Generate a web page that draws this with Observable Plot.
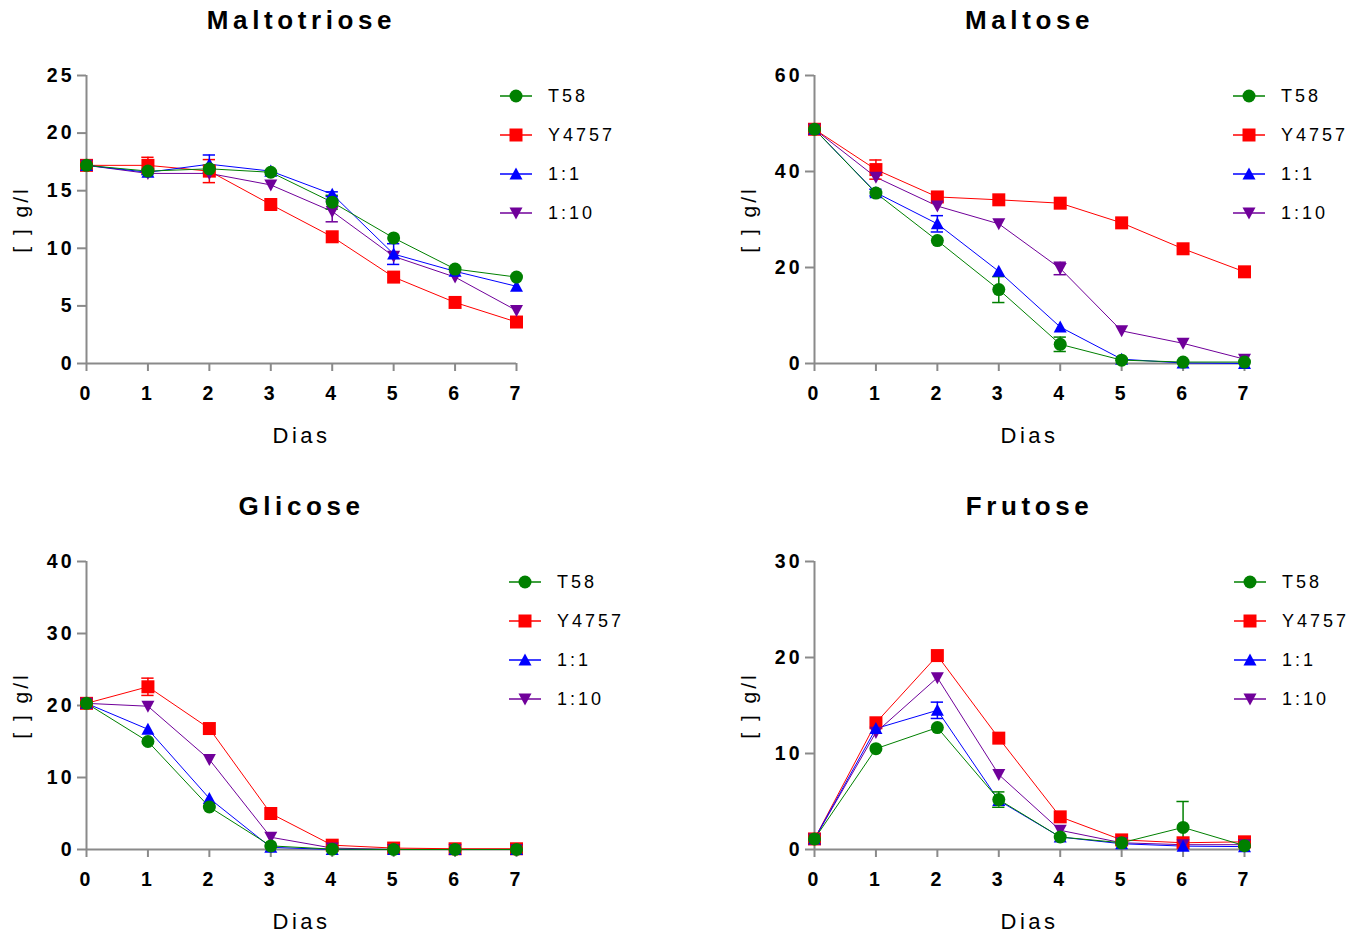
<!DOCTYPE html>
<html><head><meta charset="utf-8">
<script src="https://cdn.jsdelivr.net/npm/d3@7"></script>
<script src="https://cdn.jsdelivr.net/npm/@observablehq/plot@0.6"></script>
<style>
html,body{margin:0;padding:0;background:#fff;overflow:hidden;width:1365px;height:938px;}
.panel{position:absolute;}
</style></head><body>
<div id="root"></div>
<script>
// ---- data ----
const days = [0,1,2,3,4,5,6,7];
const seriesNames = ["T58","Y4757","1:1","1:10"];
const seriesColors = ["#008000","#ff0000","#0000ff","#70009a"];
const panelTitles = ["Maltotriose","Maltose","Glicose","Frutose"];
const yLabel = "[ ] g/l";
const xLabel = "Dias";

const maltotrioseTicks = [0,5,10,15,20,25];
const maltoseTicks = [0,20,40,60];
const glicoseTicks = [0,10,20,30,40];
const frutoseTicks = [0,10,20,30];

// rows: T58, Y4757, 1:1, 1:10
const maltotrioseValues = [
  [17.2,16.7,16.9,16.6,14.0,10.9,8.2,7.5],
  [17.2,17.2,16.7,13.8,11.0,7.5,5.3,3.6],
  [17.2,16.6,17.3,16.7,14.7,9.5,8.0,6.7],
  [17.2,16.5,16.5,15.5,13.2,9.3,7.5,4.6]
];
const maltotrioseErrors = [
  [0,0,0.3,0,0.6,0,0,0],
  [0,0.7,1.0,0,0,0,0,0],
  [0,0.2,0.8,0,0.2,0.9,0,0],
  [0,0,0,0,0.9,0,0,0]
];
const maltoseValues = [
  [48.8,35.5,25.6,15.4,4.0,0.7,0.3,0.3],
  [48.8,40.4,34.7,34.1,33.4,29.3,23.9,19.1],
  [48.8,35.6,29.1,19.2,7.6,0.9,0.1,0.0],
  [48.8,38.8,32.8,29.1,19.8,6.8,4.2,0.9]
];
const maltoseErrors = [
  [0,0,0,2.7,1.5,0,0,0],
  [0,2.0,0,0,0,0,0,0],
  [0,0.7,1.7,0,0,0,0,0],
  [0,0,0,0,1.3,0,0,0]
];
const glicoseValues = [
  [20.3,15.0,5.9,0.5,0.05,0,0,0],
  [20.3,22.6,16.8,5.0,0.6,0.2,0.1,0.1],
  [20.3,16.7,7.1,0.3,0,0,0,0],
  [20.3,19.9,12.5,1.7,0.2,0,0,0]
];
const glicoseErrors = [
  [0,0,0,0,0,0,0,0],
  [0,1.2,0,0,0,0,0,0],
  [0,0,0,0,0,0,0,0],
  [0,0,0,0,0,0,0,0]
];
const frutoseValues = [
  [1.1,10.5,12.7,5.2,1.3,0.7,2.3,0.4],
  [1.1,13.2,20.2,11.6,3.4,1.0,0.7,0.8],
  [1.1,12.6,14.5,5.1,1.3,0.6,0.35,0.3],
  [1.1,12.2,17.9,7.8,2.0,0.7,0.5,0.5]
];
const frutoseErrors = [
  [0,0,0,0.8,0,0,2.7,0],
  [0,0,0,0,0,0,0,0],
  [0,0,0.85,0,0,0,0,0],
  [0,0,0,0,0,0,0,0]
];

// ---- symbols ----
const symCircle = {draw(ctx, size){const r=Math.sqrt(size/Math.PI); ctx.moveTo(r,0); ctx.arc(0,0,r,0,2*Math.PI);}};
const symSquare = {draw(ctx, size){const r=Math.sqrt(size/Math.PI); ctx.rect(-r,-r,2*r,2*r);}};
const symUp = {draw(ctx, size){const r=Math.sqrt(size/Math.PI); ctx.moveTo(0,-1.0*r); ctx.lineTo(r*1.0,0.85*r); ctx.lineTo(-r*1.0,0.85*r); ctx.closePath();}};
const symDown = {draw(ctx, size){const r=Math.sqrt(size/Math.PI); ctx.moveTo(0,1.0*r); ctx.lineTo(r*1.0,-0.85*r); ctx.lineTo(-r*1.0,-0.85*r); ctx.closePath();}};
const seriesSymbols = [symCircle, symSquare, symUp, symDown];
const drawOrder = [1,3,2,0];

const panels = [
  {title: panelTitles[0], ticks: maltotrioseTicks, values: maltotrioseValues, errors: maltotrioseErrors, left: 0, top: 0, legendDx: 0},
  {title: panelTitles[1], ticks: maltoseTicks, values: maltoseValues, errors: maltoseErrors, left: 728, top: 0, legendDx: 5},
  {title: panelTitles[2], ticks: glicoseTicks, values: glicoseValues, errors: glicoseErrors, left: 0, top: 486, legendDx: 9},
  {title: panelTitles[3], ticks: frutoseTicks, values: frutoseValues, errors: frutoseErrors, left: 728, top: 486, legendDx: 6}
];

const W = 637, H = 460, ML = 86, MR = W - 516, MT = 75, MB = 97;
const axisGray = "#8a8a8a";
const font = "'Liberation Sans', Arial, Helvetica, sans-serif";

for (const p of panels) {
  const rows = [];
  p.values.forEach((vals, si) => vals.forEach((v, di) => rows.push({day: days[di], v, e: p.errors[si][di], s: si})));
  const marks = [
    Plot.ruleY([0], {stroke: axisGray, strokeWidth: 2}),
    Plot.ruleX([0], {stroke: axisGray, strokeWidth: 2}),
    Plot.axisX({ticks: days, tickFormat: d3.format("d"), tickSize: 8, tickPadding: 15, stroke: axisGray, strokeWidth: 2, fill: "black", fontWeight: "bold", fontSize: 19.5, label: null}),
    Plot.axisY({ticks: p.ticks, tickFormat: d3.format("d"), tickSize: 9, tickPadding: 3, stroke: axisGray, strokeWidth: 2, fill: "black", fontWeight: "bold", fontSize: 19.5, label: null}),
    Plot.text([p.title], {frameAnchor: "top", lineAnchor: "middle", dy: -55, fontSize: 26, fontWeight: "bold", fill: "black"}),
    Plot.text([xLabel], {frameAnchor: "bottom", lineAnchor: "middle", dy: 72, fontSize: 22, fontWeight: "normal", fill: "black"}),
    Plot.text([yLabel], {frameAnchor: "left", textAnchor: "middle", lineAnchor: "middle", dx: -65, rotate: -90, fontSize: 21, fontWeight: "normal", fill: "black"})
  ];
  for (const si of drawOrder) {
    const d = rows.filter(r => r.s === si);
    marks.push(Plot.line(d, {x: "day", y: "v", stroke: seriesColors[si], strokeWidth: 1}));
  }
  for (const si of drawOrder) {
    const d = rows.filter(r => r.s === si && r.e > 0);
    const c = seriesColors[si];
    marks.push(Plot.ruleX(d, {x: "day", y1: r => Math.max(0, r.v - r.e), y2: r => r.v + r.e, stroke: c, strokeWidth: 1.5}));
    marks.push(Plot.ruleY(d, {y: r => r.v + r.e, x1: r => r.day - 0.1, x2: r => r.day + 0.1, stroke: c, strokeWidth: 1.5}));
    marks.push(Plot.ruleY(d.filter(r => r.v - r.e > 0), {y: r => r.v - r.e, x1: r => r.day - 0.1, x2: r => r.day + 0.1, stroke: c, strokeWidth: 1.5}));
  }
  for (const si of drawOrder) {
    const d = rows.filter(r => r.s === si);
    marks.push(Plot.dot(d, {x: "day", y: "v", symbol: seriesSymbols[si], r: 6.5, fill: seriesColors[si], stroke: "none"}));
  }
  const svg = Plot.plot({
    width: W, height: H,
    marginLeft: ML, marginRight: MR, marginTop: MT, marginBottom: MB,
    style: {fontFamily: font, fontSize: "19px", letterSpacing: "3px", background: "white", overflow: "visible", color: "black"},
    x: {domain: [0, 7]},
    y: {domain: [0, d3.max(p.ticks)]},
    marks
  });
  d3.select(svg).selectAll("text").filter(function(){ return this.textContent === p.title; }).style("letter-spacing", "4.6px");
  d3.select(svg).selectAll("text").filter(function(){ return this.textContent === xLabel; }).style("letter-spacing", "3.5px");

  // legend
  const lg = d3.select(svg).append("g").attr("transform", `translate(${516 + p.legendDx},0)`)
    .attr("text-anchor", "start");
  seriesNames.forEach((name, i) => {
    const y = 96 + i * 39;
    const g = lg.append("g").attr("transform", `translate(0,${y})`);
    g.append("line").attr("x1", -16).attr("x2", 16).attr("stroke", seriesColors[i]).attr("stroke-width", 1.5);
    const path = d3.path();
    seriesSymbols[i].draw(path, Math.PI * 6.5 * 6.5);
    g.append("path").attr("d", path.toString()).attr("fill", seriesColors[i]);
    g.append("text").attr("x", 32).attr("dy", "0.36em").attr("text-anchor", "start")
      .style("font-size", "18px").style("font-weight", "normal")
      .style("letter-spacing", "3px").attr("fill", "black").text(name);
  });

  const div = document.createElement("div");
  div.className = "panel";
  div.style.left = p.left + "px";
  div.style.top = p.top + "px";
  div.appendChild(svg);
  document.getElementById("root").appendChild(div);
}
</script>
</body></html>
